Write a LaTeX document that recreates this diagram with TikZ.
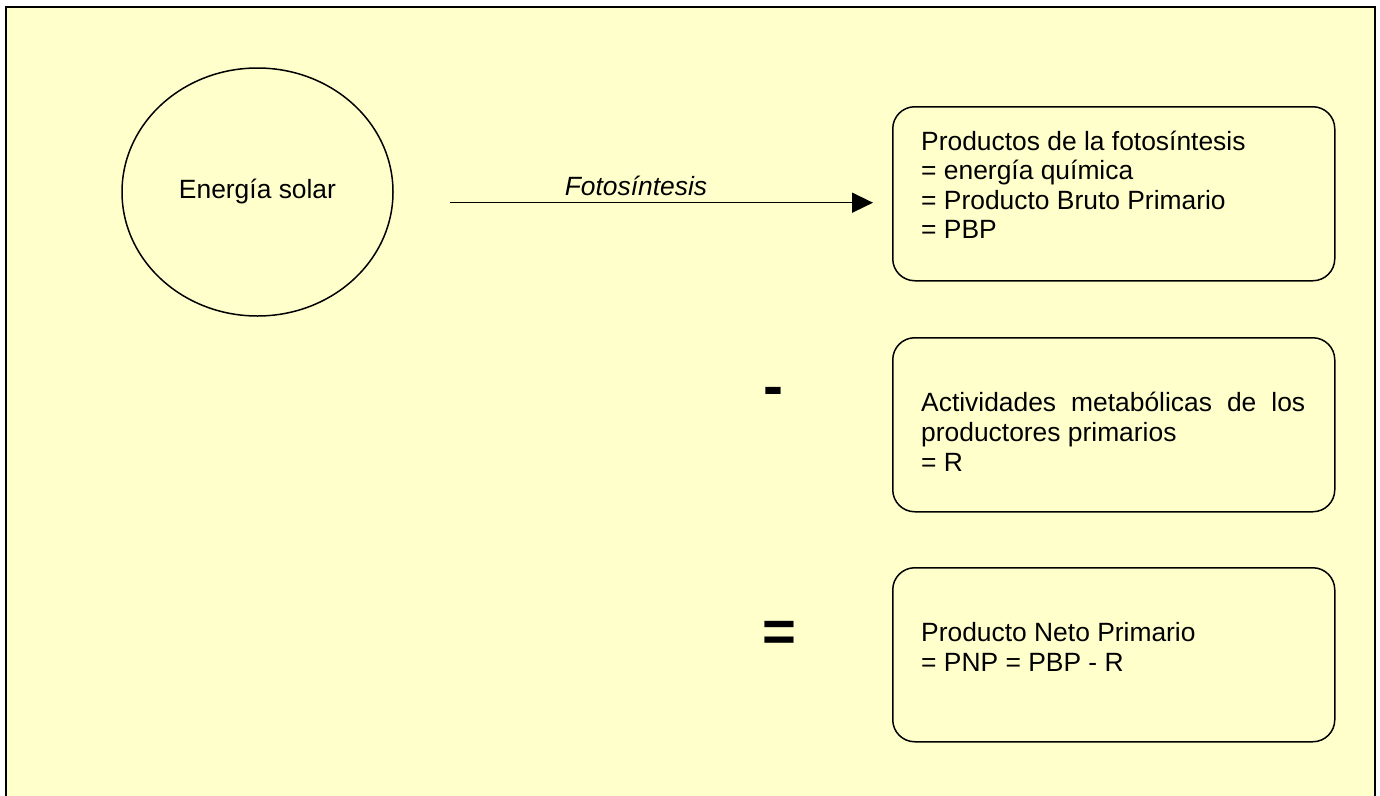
\documentclass[tikz,border=0pt]{standalone}
\usepackage{fontspec}
\setmainfont{Liberation Sans}
\usetikzlibrary{arrows.meta,shapes.geometric}
\definecolor{bgyellow}{HTML}{FFFFCC}
\begin{document}
\begin{tikzpicture}[x=1pt,y=-1pt,
  frame/.style={draw=black, line width=2pt, fill=bgyellow},
  sun/.style={draw=black, line width=1.5pt, ellipse, minimum width=271pt, minimum height=248pt, inner sep=0pt,
    font=\fontsize{26.4}{29.6}\selectfont},
  pbox/.style={draw=black, line width=1.5pt, rounded corners=22pt, minimum width=442pt, minimum height=174pt,
    inner sep=0pt, anchor=north west},
  boxtext/.style={inner sep=0pt, anchor=base west, font=\fontsize{26.4}{29.6}\selectfont},
  flow/.style={draw=black, line width=1.5pt, -{Triangle[length=21pt,width=20pt]}},
  lbl/.style={inner sep=0pt, anchor=base, font=\fontsize{26.4}{29.6}\selectfont\itshape},
  sign/.style={inner sep=0pt, anchor=base, font=\fontsize{60}{60}\selectfont\bfseries}
]
\useasboundingbox (0,0) rectangle (1380,795);
\draw[frame] (6,6.5) rectangle (1374.5,830);

\node[sun] (sol) at (257.5,192) {Energía solar};

\node[pbox] (b1) at (892,106) {};
\node[pbox] (b2) at (892,337) {};
\node[pbox] (b3) at (892,567) {};

\node[boxtext] (t1) at (921,150) {\begin{tabular}[t]{@{}l@{}}Productos de la fotosíntesis\\= energía química\\= Producto Bruto Primario\\= PBP\end{tabular}};
\node[boxtext, font=\fontsize{26.4}{30.4}\selectfont] (t2) at (921,411) {\begin{tabular}[t]{@{}l@{}}\makebox[384pt][s]{Actividades metabólicas de los}\\productores primarios\\= R\end{tabular}};
\node[boxtext, font=\fontsize{26.4}{30.8}\selectfont] (t3) at (921,641) {\begin{tabular}[t]{@{}l@{}}Producto Neto Primario\\= PNP = PBP - R\end{tabular}};

\coordinate (fs) at (450,202.7);
\coordinate (fe) at (873,202.7);
\draw[flow] (fs) -- (fe);
\node[lbl] (fl) at (636,195) {Fotosíntesis};

\node[sign] (minus) at (773.5,406) {-};
\node[sign, font=\fontsize{58}{58}\selectfont\bfseries] (equals) at (779,651) {=};
\end{tikzpicture}
\end{document}
